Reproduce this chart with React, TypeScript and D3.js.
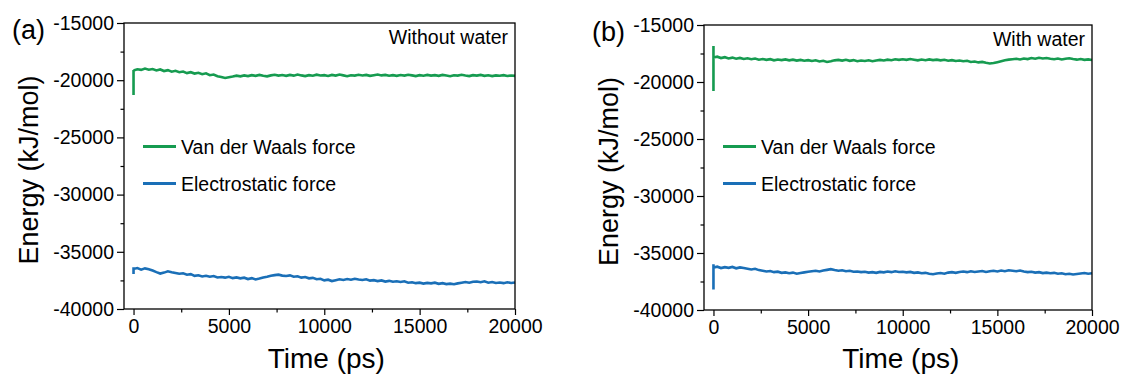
import { useEffect, useRef } from "react";
import * as d3 from "d3";

// sampling step of the energy traces (ps)
const step = 200;
const times = d3.range(0, 20001, step);

const yTicks = [-15000, -20000, -25000, -30000, -35000, -40000];
const yMinor = [-17500, -22500, -27500, -32500, -37500];
const xTicks = [0, 5000, 10000, 15000, 20000];
const xMinor = [2500, 7500, 12500, 17500];

// (a) without water
const vdwA = [
  -19150, -19050, -19100, -18980, -19080, -19020, -19150, -19060, -19200, -19120,
  -19260, -19180, -19300, -19240, -19380, -19300, -19420, -19350, -19480, -19400,
  -19560, -19500, -19650, -19720, -19800, -19740, -19680, -19600, -19660, -19580,
  -19640, -19560, -19620, -19540, -19610, -19660, -19580, -19520, -19600, -19550,
  -19620, -19540, -19600, -19500, -19580, -19640, -19560, -19610, -19520, -19590,
  -19560, -19630, -19540, -19600, -19510, -19580, -19650, -19570, -19600, -19530,
  -19590, -19540, -19620, -19560, -19500, -19580, -19540, -19610, -19560, -19620,
  -19550, -19600, -19520, -19580, -19640, -19560, -19610, -19540, -19600, -19560,
  -19620, -19540, -19590, -19650, -19570, -19600, -19530, -19590, -19640, -19560,
  -19600, -19540, -19620, -19570, -19640, -19580, -19610, -19560, -19630, -19590,
  -19620,
];
const elecA = [
  -36500, -36420, -36560, -36450, -36520, -36640, -36780, -36900, -36820, -36700,
  -36780, -36850, -36920, -36880, -37000, -36950, -37100, -37050, -37160, -37100,
  -37180, -37120, -37240, -37200, -37260, -37180, -37300, -37240, -37320, -37260,
  -37380, -37300, -37420, -37340, -37250, -37180, -37100, -37040, -37000, -37080,
  -37120, -37060, -37180, -37140, -37260, -37200, -37320, -37280, -37400, -37360,
  -37500, -37440, -37560, -37480, -37400, -37460, -37380, -37440, -37360, -37420,
  -37460, -37400, -37520, -37480, -37560, -37500, -37600, -37540, -37620, -37580,
  -37640, -37580, -37700, -37660, -37740, -37700, -37780, -37720, -37760, -37700,
  -37800, -37740, -37820, -37780, -37840, -37760, -37700, -37640, -37700, -37620,
  -37600, -37660, -37580, -37700, -37640, -37720, -37680, -37740, -37660, -37720,
  -37680,
];

// (b) with water
const vdwB = [
  -17850, -17780, -17900, -17820, -17930, -17860, -17960, -17890, -17980, -17920,
  -18000, -17940, -18040, -17980, -18060, -18000, -18100, -18030, -18080, -18020,
  -18100, -18040, -18120, -18060, -18140, -18080, -18160, -18100, -18200, -18140,
  -18240, -18180, -18100, -18060, -18120, -18050, -18140, -18080, -18180, -18120,
  -18160, -18100, -18180, -18120, -18060, -18110, -18040, -18090, -18010, -18060,
  -18000, -18060, -17980, -18040, -18100, -18030, -18090, -18020, -18080, -18040,
  -18100, -18050, -18130, -18080, -18160, -18110, -18180, -18140, -18240, -18200,
  -18280, -18240, -18320, -18380, -18340, -18260, -18180, -18100, -18040, -18000,
  -17960, -18020, -17940, -17990, -17900, -17960, -17880, -17940, -17900, -17960,
  -18000, -17940, -18020, -17960, -17920, -17990, -18040, -17980, -18060, -18020,
  -18070,
];
const elecB = [
  -36280, -36200, -36320, -36240, -36300, -36220, -36340, -36260, -36320, -36380,
  -36440, -36380, -36500, -36560, -36620, -36580, -36680, -36640, -36740, -36700,
  -36780, -36720, -36820, -36760, -36700, -36640, -36600, -36560, -36620, -36540,
  -36480, -36420, -36500, -36560, -36520, -36600, -36560, -36640, -36620, -36680,
  -36640, -36720, -36680, -36740, -36660, -36700, -36620, -36680, -36600, -36660,
  -36640, -36700, -36660, -36740, -36700, -36780, -36740, -36820, -36860, -36800,
  -36760, -36820, -36720, -36680, -36740, -36660, -36620, -36680, -36600, -36660,
  -36620, -36580, -36660, -36600, -36560, -36620, -36540, -36600, -36520, -36560,
  -36600, -36540, -36620, -36680, -36640, -36720, -36680, -36760, -36720, -36780,
  -36740, -36820, -36780, -36860, -36820, -36880, -36840, -36800, -36760, -36820,
  -36780,
];

// initial spikes at t = 0: [low, high]
const vdwASpike = [-21300, -19100];
const elecASpike = [-36950, -36350];
const vdwBSpike = [-20780, -16850];
const elecBSpike = [-38200, -35980];

const seriesNames = ["Van der Waals force", "Electrostatic force"];
const colors = ["#169b50", "#1a6fb7"];

const panels = [
  { tag: "(a)", note: "Without water", vdw: vdwA, elec: elecA, vdwSpike: vdwASpike, elecSpike: elecASpike,
    left: 124, right: 515, top: 23, bottom: 309 },
  { tag: "(b)", note: "With water", vdw: vdwB, elec: elecB, vdwSpike: vdwBSpike, elecSpike: elecBSpike,
    left: 704, right: 1092, top: 25, bottom: 310 },
];

const FONT = "'Liberation Sans', Arial, sans-serif";

export default function App() {
  const svgRef = useRef<SVGSVGElement>(null);

  useEffect(() => {
    if (!svgRef.current) return;
    const svg = d3.select(svgRef.current);
    svg.selectAll("*").remove();

    panels.forEach((p) => {
      const x = d3.scaleLinear().domain([-500, 20000]).range([p.left, p.right]);
      const y = d3.scaleLinear().domain([-40000, -15000]).range([p.bottom, p.top]);
      const g = svg.append("g").attr("font-family", FONT);

      // traces
      const line = d3
        .line<[number, number]>()
        .x((d) => x(d[0]))
        .y((d) => y(d[1]));
      [
        { vals: p.vdw, spike: p.vdwSpike, c: colors[0] },
        { vals: p.elec, spike: p.elecSpike, c: colors[1] },
      ].forEach((s) => {
        const pts: [number, number][] = [
          [0, s.spike[0]],
          [0, s.spike[1]],
          ...s.vals.map((v, i) => [times[i], v] as [number, number]),
        ];
        g.append("path")
          .datum(pts)
          .attr("fill", "none")
          .attr("stroke", s.c)
          .attr("stroke-width", 2.6)
          .attr("stroke-linejoin", "miter")
          .attr("d", line);
      });

      // frame
      g.append("rect")
        .attr("x", p.left)
        .attr("y", p.top)
        .attr("width", p.right - p.left)
        .attr("height", p.bottom - p.top)
        .attr("fill", "none")
        .attr("stroke", "#000")
        .attr("stroke-width", 1.3);

      // y axis
      g.append("g")
        .attr("transform", `translate(${p.left},0)`)
        .call(d3.axisLeft(y).tickValues(yTicks).tickSize(7).tickSizeOuter(0).tickPadding(3).tickFormat((d) => `${d}`));
      g.append("g")
        .attr("transform", `translate(${p.left},0)`)
        .call(d3.axisLeft(y).tickValues(yMinor).tickSize(3.5).tickSizeOuter(0).tickFormat(() => ""));
      // x axis
      g.append("g")
        .attr("transform", `translate(0,${p.bottom})`)
        .call(d3.axisBottom(x).tickValues(xTicks).tickSize(6).tickSizeOuter(0).tickPadding(4).tickFormat((d) => `${d}`));
      g.append("g")
        .attr("transform", `translate(0,${p.bottom})`)
        .call(d3.axisBottom(x).tickValues(xMinor).tickSize(3.5).tickSizeOuter(0).tickFormat(() => ""));
      g.selectAll(".domain").remove();
      g.selectAll(".tick line").attr("stroke", "#000").attr("stroke-width", 1.2);
      g.selectAll(".tick text").attr("font-size", 19.5).attr("font-family", FONT).attr("fill", "#000");

      // axis titles
      g.append("text")
        .attr("x", x(10000) + (p.left === 124 ? 2 : -2))
        .attr("y", 368)
        .attr("text-anchor", "middle")
        .attr("font-size", 28)
        .text("Time (ps)");
      g.append("text")
        .attr("transform", `translate(${p.left - 86},${(p.top + p.bottom) / 2 + 4}) rotate(-90)`)
        .attr("text-anchor", "middle")
        .attr("font-size", 27)
        .text("Energy (kJ/mol)");

      // panel tag and note
      g.append("text").attr("x", p.left - 112).attr("y", p.top + 16).attr("font-size", 27).text(p.tag);
      g.append("text")
        .attr("x", p.right - 7)
        .attr("y", p.top + 21)
        .attr("text-anchor", "end")
        .attr("font-size", 19.5)
        .text(p.note);

      // legend
      seriesNames.forEach((name, i) => {
        const ly = 146.5 + i * 37;
        g.append("line")
          .attr("x1", p.left + 19)
          .attr("x2", p.left + 52)
          .attr("y1", ly)
          .attr("y2", ly)
          .attr("stroke", colors[i])
          .attr("stroke-width", 3);
        g.append("text")
          .attr("x", p.left + 57)
          .attr("y", ly + 7)
          .attr("font-size", 19.5)
          .text(name);
      });
    });
  }, []);

  return (
    <div style={{ position: "absolute", left: 0, top: 0, background: "#fff" }}>
      <svg ref={svgRef} width={1123} height={378} style={{ display: "block" }} />
    </div>
  );
}
